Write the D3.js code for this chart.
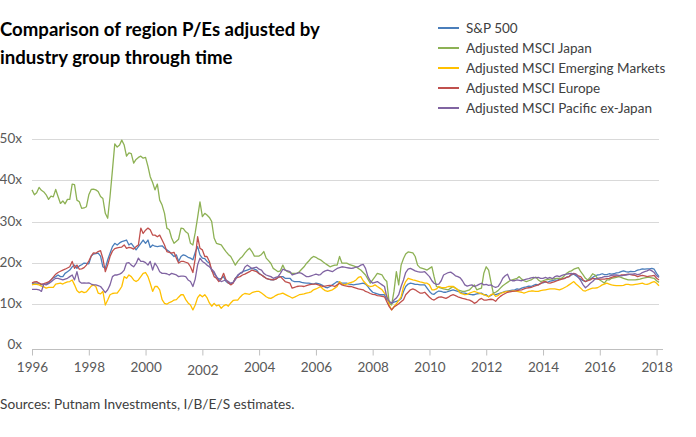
<!DOCTYPE html>
<html>
<head>
<meta charset="utf-8">
<script src="https://cdn.jsdelivr.net/npm/d3@7"></script>
<style>
  body { margin: 0; background: #fff; }
  text { font-family: Lato, "Noto Sans", sans-serif; }
</style>
</head>
<body>
<div id="chart"></div>
<script>
// monthly P/E readings, Jan 1996 .. Feb 2018
const seriesNames = ["S&P 500", "Adjusted MSCI Japan", "Adjusted MSCI Emerging Markets",
  "Adjusted MSCI Europe", "Adjusted MSCI Pacific ex-Japan"];
const seriesColors = ["#4a7ebb", "#8db154", "#ffc000", "#c0504d", "#8064a2"];

const sp500 = [
  14.8,15.1,15.0,15.0,14.6,14.7,14.8,15.0,15.8,16.3,16.6,17.0,
  16.6,16.6,17.4,17.8,18.2,19.0,19.4,18.6,19.2,19.5,19.9,19.8,
  19.7,21.6,22.1,22.2,22.3,21.6,19.0,18.6,20.7,22.3,23.9,24.7,
  24.3,24.8,25.1,25.3,25.5,24.3,24.7,23.9,23.1,23.9,24.7,25.5,
  24.7,25.5,23.7,24.3,24.0,23.9,24.0,24.1,23.5,23.1,22.7,22.1,
  21.5,21.9,20.3,21.5,21.9,21.7,21.3,21.1,20.7,22.5,23.9,21.9,
  21.1,21.0,20.3,19.9,18.0,17.4,16.6,16.0,16.2,16.6,15.4,15.0,
  14.8,15.2,16.2,16.8,17.4,17.8,18.0,18.2,18.4,18.6,18.4,18.2,
  17.4,17.0,16.6,16.2,16.0,15.8,15.8,16.0,16.4,16.6,16.6,16.2,
  16.2,16.2,15.6,15.4,15.4,15.4,15.2,15.1,15.0,15.0,14.9,14.8,
  15.0,14.9,14.7,14.4,14.0,13.9,14.2,14.6,15.0,15.4,15.2,15.0,
  15.0,15.0,14.8,14.7,14.6,14.7,14.8,14.9,15.0,14.8,14.2,13.4,
  12.8,12.6,12.4,12.2,12.2,12.2,11.0,10.4,10.1,10.4,10.6,10.8,
  11.3,13.0,14.2,14.8,15.0,14.9,14.7,14.7,14.6,14.6,14.6,13.8,
  13.0,12.4,12.3,12.8,13.1,13.0,12.8,12.8,13.0,13.2,13.4,13.2,
  13.0,12.8,12.6,12.6,12.4,12.3,12.2,12.2,12.4,12.5,12.6,12.2,
  12.2,11.7,12.0,12.4,12.2,12.4,12.6,12.8,13.0,13.1,13.2,13.3,
  13.4,13.6,13.5,13.8,14.0,14.1,14.3,14.2,14.5,14.7,14.6,15.0,
  15.1,15.3,15.2,15.5,15.6,15.8,15.7,16.0,16.2,16.1,16.5,16.6,
  17.0,17.2,16.8,16.4,16.0,15.6,15.4,15.8,16.0,16.4,16.8,17.0,
  17.1,17.3,17.1,17.1,17.3,17.2,17.3,17.5,17.6,17.8,18.0,17.8,
  17.7,17.9,17.8,17.9,18.2,18.3,18.5,18.4,18.5,18.5,18.6,18.4,
  17.4,16.6
];

const japan = [
  37.7,36.5,37.0,38.3,37.6,37.2,36.5,35.4,36.2,36.0,37.8,36.1,
  34.4,35.0,34.3,35.4,35.4,39.1,39.0,35.2,34.8,33.2,33.3,33.6,
  36.5,37.8,37.9,37.7,37.3,36.1,35.6,32.0,30.8,36.1,42.5,48.9,
  48.1,48.6,49.8,48.6,45.9,46.7,46.5,44.2,45.1,45.6,45.9,45.4,
  45.6,43.4,40.9,39.5,37.7,39.1,35.2,34.0,32.0,28.4,28.0,26.0,
  24.7,25.2,25.7,28.4,28.3,27.5,27.1,24.7,24.3,27.3,31.0,34.8,
  31.2,32.0,31.6,31.0,30.0,26.0,24.7,24.5,24.3,23.5,22.7,22.0,
  21.5,20.4,19.4,20.3,21.0,21.5,22.3,23.0,23.5,22.7,21.6,21.6,
  21.6,22.0,22.7,21.1,20.5,19.8,18.6,18.2,17.8,18.0,19.4,18.2,
  17.8,17.6,17.4,17.4,17.4,17.8,18.4,19.0,19.8,20.4,21.1,21.5,
  21.3,20.9,20.7,20.2,19.8,19.4,19.0,19.2,19.4,19.4,21.5,19.9,
  19.9,19.9,19.6,19.4,19.2,19.0,18.6,18.2,17.6,17.0,16.0,15.0,
  15.8,16.6,17.4,17.2,17.0,16.0,15.4,10.1,9.7,13.0,17.8,14.6,
  19.4,21.0,22.1,22.6,22.5,22.4,21.5,19.4,18.8,18.6,18.4,18.2,
  18.6,19.0,16.6,14.2,14.0,13.8,13.6,13.5,13.4,13.8,14.2,13.8,
  13.4,13.2,13.0,13.0,13.2,13.4,14.0,14.6,13.4,13.6,13.8,17.4,
  19.0,18.2,15.4,12.6,12.8,13.2,13.8,14.4,14.8,15.2,15.6,15.8,
  16.0,16.2,16.6,16.0,15.6,15.4,15.6,15.8,16.2,16.5,15.8,15.4,
  15.6,15.8,15.9,16.0,16.0,16.1,16.2,16.2,16.2,16.8,17.4,17.8,
  18.0,18.4,18.6,18.8,17.8,17.0,16.2,15.8,16.5,17.3,17.0,16.2,
  15.8,15.4,15.0,15.8,15.8,16.2,16.3,16.4,16.6,16.4,16.2,16.0,
  15.8,15.8,15.8,15.8,15.9,16.0,16.2,16.3,16.4,16.4,16.3,16.2,
  15.6,15.2
];

const emerging = [
  14.6,14.8,14.7,14.6,14.3,14.1,13.8,14.0,14.0,14.0,14.8,14.9,
  15.0,14.8,15.1,15.3,15.4,15.8,14.6,13.2,12.7,13.0,12.7,12.9,
  13.6,14.3,14.6,14.2,12.6,12.4,13.0,9.7,10.9,12.2,12.5,12.6,
  12.6,13.4,14.2,16.6,16.2,17.0,16.6,15.8,15.4,15.8,16.6,17.4,
  17.6,16.6,15.0,13.0,14.2,14.2,13.4,11.0,10.1,9.9,10.3,10.5,
  10.9,11.0,11.6,12.2,12.2,11.0,10.2,9.7,8.5,9.7,11.5,12.2,
  11.7,12.2,11.5,10.2,9.4,10.1,9.5,9.7,8.9,9.5,9.8,9.4,
  10.2,10.8,10.9,10.9,11.6,12.2,12.5,12.4,12.3,12.7,12.9,13.0,
  13.0,12.6,12.2,11.7,11.4,11.3,11.6,12.0,12.3,12.4,12.6,12.3,
  12.0,11.7,11.4,11.6,11.9,12.2,12.3,12.4,12.6,12.7,12.9,13.4,
  13.6,13.9,14.2,13.6,13.2,13.0,13.2,13.4,13.8,14.2,15.4,14.8,
  14.6,14.8,15.0,15.2,15.4,15.8,16.4,16.6,15.6,15.0,14.4,14.2,
  14.3,14.6,14.2,13.8,13.4,12.6,12.0,9.7,8.5,9.3,10.0,10.8,
  11.7,14.2,15.4,16.2,16.0,15.8,15.7,15.5,15.3,15.2,15.0,15.0,
  14.6,13.4,13.4,13.6,14.2,14.0,13.9,14.0,14.2,14.2,14.2,13.8,
  13.4,12.6,12.4,12.2,12.3,12.6,12.8,13.0,12.8,12.6,12.4,12.2,
  12.0,11.7,12.2,12.4,11.8,12.0,12.5,12.7,12.9,13.0,13.0,13.1,
  13.1,13.0,12.9,12.8,12.6,12.8,13.0,13.1,13.1,13.0,13.0,13.2,
  13.3,13.4,13.5,13.6,13.6,13.6,13.5,13.4,13.6,13.9,14.2,14.6,
  15.0,15.4,14.8,14.3,13.8,13.2,13.1,13.4,13.6,13.8,13.8,13.9,
  14.2,14.6,14.8,15.0,14.8,14.6,14.5,14.4,14.4,14.4,14.5,14.7,
  14.7,14.6,14.6,14.7,14.8,14.9,15.0,14.8,14.7,14.9,15.2,15.4,
  15.0,14.4
];

const europe = [
  15.1,15.3,15.4,15.0,14.8,14.9,15.1,15.3,15.8,16.5,17.2,17.6,
  17.9,18.2,18.4,18.7,19.0,20.3,18.6,19.4,18.4,18.5,18.8,19.4,
  20.4,21.6,22.4,22.3,22.7,22.9,21.0,17.8,19.5,21.5,22.8,23.4,
  23.6,23.7,23.8,24.3,23.5,23.7,23.6,23.3,23.9,24.3,28.4,27.1,
  27.9,28.4,28.0,26.7,26.7,26.3,26.7,25.5,24.3,22.7,22.5,22.3,
  22.5,21.1,19.9,20.3,20.3,20.1,19.9,19.0,17.6,21.0,26.3,23.5,
  23.1,21.5,21.5,20.3,18.2,16.6,16.2,15.4,16.0,17.4,15.8,15.1,
  14.6,15.0,16.2,16.4,16.6,17.0,17.2,17.5,17.8,18.2,18.0,17.8,
  17.3,17.0,16.6,16.2,16.0,15.9,15.8,16.0,16.4,16.6,16.0,15.4,
  15.2,15.0,13.8,14.0,14.2,14.3,14.3,14.2,14.4,14.6,14.7,14.8,
  14.8,14.6,14.4,14.2,14.3,14.4,14.5,14.4,14.2,14.6,15.0,14.6,
  14.4,14.3,14.2,14.2,14.0,13.8,13.6,13.5,13.4,13.0,12.8,12.5,
  12.3,12.2,12.0,11.9,11.8,11.7,10.5,9.3,8.5,9.2,9.6,10.0,
  10.5,11.0,12.2,12.8,13.4,13.6,13.4,13.0,12.6,12.6,12.8,12.2,
  11.6,11.1,10.9,11.3,11.6,11.7,11.5,11.3,11.6,12.0,12.2,12.0,
  11.7,11.5,11.3,11.2,11.0,10.9,10.6,10.1,10.4,11.0,11.3,10.9,
  10.9,11.0,11.1,11.0,10.6,11.3,11.8,12.2,12.5,12.8,12.9,13.0,
  13.1,13.2,13.3,13.4,13.6,13.8,13.9,14.0,14.2,14.4,14.6,14.9,
  15.3,15.4,15.1,15.0,15.2,15.4,15.6,15.8,16.0,16.2,16.4,16.6,
  17.2,17.4,17.2,16.8,16.6,15.8,15.4,15.6,15.8,16.2,16.1,16.0,
  16.0,16.0,16.0,16.1,16.2,16.4,16.6,16.7,16.8,17.0,17.0,17.1,
  17.2,17.1,17.0,16.9,16.6,16.8,16.9,16.8,16.6,16.7,16.8,16.9,
  16.2,15.8
];

const pacific = [
  13.5,13.5,13.5,13.4,13.0,14.8,14.6,14.9,15.3,15.8,16.2,16.2,
  16.0,15.8,16.0,16.2,16.6,17.0,15.8,17.8,15.4,15.0,15.1,15.0,
  15.1,14.8,14.6,14.6,14.4,14.2,13.5,12.7,13.4,14.6,16.6,17.0,
  17.0,17.2,17.5,18.2,19.9,20.0,19.4,19.0,19.8,21.1,20.3,20.3,
  20.0,19.4,20.3,18.2,19.9,19.0,17.8,17.4,17.4,17.3,17.0,17.4,
  17.2,17.0,16.6,16.7,16.7,16.6,15.8,15.4,14.2,16.0,19.5,21.1,
  20.3,19.9,19.4,19.0,18.4,17.8,16.6,15.8,15.4,15.6,15.8,15.4,
  15.0,15.2,15.8,17.0,17.4,17.6,18.9,19.4,19.0,18.6,18.8,18.9,
  18.4,18.2,17.4,17.0,16.8,16.6,16.2,16.4,16.6,17.4,18.4,18.2,
  18.0,17.8,17.0,17.2,17.4,17.6,17.4,17.0,16.6,16.6,16.8,17.0,
  17.2,17.0,17.1,17.7,18.0,18.2,18.0,17.8,18.2,18.6,18.8,19.0,
  18.9,18.8,18.7,18.6,18.7,18.9,19.0,19.4,19.6,18.6,16.6,15.6,
  15.0,15.2,15.4,15.0,14.6,14.2,11.6,10.6,10.1,10.9,11.4,12.2,
  14.2,15.8,17.6,18.4,18.6,18.3,18.0,17.8,17.7,17.7,17.8,17.2,
  16.6,15.6,15.0,14.7,14.8,15.6,17.0,17.3,17.6,17.7,17.3,16.8,
  16.6,16.3,15.6,14.6,14.3,14.5,14.6,14.2,14.4,14.7,15.0,14.6,
  14.7,14.5,14.6,14.2,14.0,14.2,15.0,16.2,16.8,17.2,15.8,15.6,
  15.6,15.8,15.7,15.6,15.8,16.0,16.1,16.3,16.4,16.3,16.4,16.2,
  16.2,16.4,16.2,16.4,16.1,16.6,16.8,16.6,16.9,17.1,17.2,17.3,
  17.4,17.2,17.2,16.4,15.6,14.6,13.9,14.4,15.0,15.4,16.0,16.2,
  16.3,16.4,16.6,16.6,16.7,16.9,17.0,17.0,16.9,16.8,16.9,17.0,
  17.1,17.2,17.2,17.3,17.1,17.2,17.6,17.8,18.0,18.3,18.0,17.6,
  16.8,16.4
];

const yTicks = [0, 10, 20, 30, 40, 50];
const xTickYears = [1996, 1998, 2000, 2002, 2004, 2006, 2008, 2010, 2012, 2014, 2016, 2018];
const titleLines = ["Comparison of region P/Es adjusted by", "industry group through time"];
const sourceText = "Sources: Putnam Investments, I/B/E/S estimates.";

const drawChart = () => {
  const width = 696;
  const height = 437;
  const allSeries = [sp500, japan, emerging, europe, pacific];
  const months = d3.timeMonth.range(new Date(1996, 0, 1), new Date(1996, sp500.length, 1));

  const x = d3.scaleTime()
      .domain([new Date(1996, 0, 1), months[months.length - 1]])
      .range([32, 659]);

  const y = d3.scaleLinear()
      .domain([-1, 50])
      .range([349, 139.3]);

  const svg = d3.select("#chart")
      .append("svg")
      .attr("width", width)
      .attr("height", height);

  svg.append("rect").attr("width", width).attr("height", height).attr("fill", "#fff");

  // title
  svg.selectAll(".title").data(titleLines).enter()
      .append("text")
      .attr("x", 0)
      .attr("y", (d, i) => 36 + i * 28)
      .attr("font-size", 18.6)
      .attr("font-weight", 700)
      .attr("fill", "#000")
      .text(d => d);

  // gridlines
  svg.append("g")
      .selectAll("line")
      .data(yTicks.filter(t => t > 0))
      .enter()
      .append("line")
      .attr("x1", 32)
      .attr("x2", 659)
      .attr("y1", d => Math.round(y(d)) + 0.5)
      .attr("y2", d => Math.round(y(d)) + 0.5)
      .attr("stroke", "#d9d9d9")
      .attr("stroke-width", 1);

  // y labels
  svg.append("g")
      .selectAll("text")
      .data(yTicks)
      .enter()
      .append("text")
      .attr("x", 22)
      .attr("y", d => y(d) + 4)
      .attr("text-anchor", "end")
      .attr("font-size", 13.5)
      .attr("fill", "#595959")
      .text(d => d + "x");

  // x axis
  const xAxis = d3.axisBottom(x)
      .tickValues(xTickYears.map(yr => new Date(yr, 0, 1)))
      .tickFormat(d3.timeFormat("%Y"))
      .tickSize(6)
      .tickPadding(7);

  const gx = svg.append("g")
      .attr("transform", `translate(0,${Math.round(y(-1)) + 0.5})`)
      .call(xAxis);
  gx.select(".domain").attr("stroke", "#bfbfbf").attr("d", "M32,0H663");
  gx.selectAll(".tick line").attr("stroke", "#bfbfbf");
  gx.selectAll(".tick text")
      .attr("font-family", "Lato, 'Noto Sans', sans-serif")
      .attr("font-size", 13.5)
      .attr("fill", "#595959")
      .attr("dy", d => d.getFullYear() === 2002 ? "0.95em" : "0.71em");

  // lines
  const line = d3.line()
      .x((d, i) => x(months[i]))
      .y(d => y(d));

  svg.append("g")
      .selectAll("path")
      .data(allSeries)
      .enter()
      .append("path")
      .attr("d", line)
      .attr("fill", "none")
      .attr("stroke", (d, i) => seriesColors[i])
      .attr("stroke-width", 1.3)
      .attr("stroke-linejoin", "round");

  // legend
  const legend = svg.append("g")
      .selectAll("g")
      .data(seriesNames)
      .enter()
      .append("g")
      .attr("transform", (d, i) => `translate(438,${28 + i * 20})`);

  legend.append("line")
      .attr("x1", 0)
      .attr("x2", 21)
      .attr("stroke", (d, i) => seriesColors[i])
      .attr("stroke-width", 2);

  legend.append("text")
      .attr("x", 28)
      .attr("y", 4.5)
      .attr("font-size", 13.5)
      .attr("fill", "#404040")
      .text(d => d);

  svg.append("text")
      .attr("x", 0)
      .attr("y", 409)
      .attr("font-size", 13.7)
      .attr("fill", "#404040")
      .text(sourceText);
};

window.onload = drawChart;
</script>
</body>
</html>
